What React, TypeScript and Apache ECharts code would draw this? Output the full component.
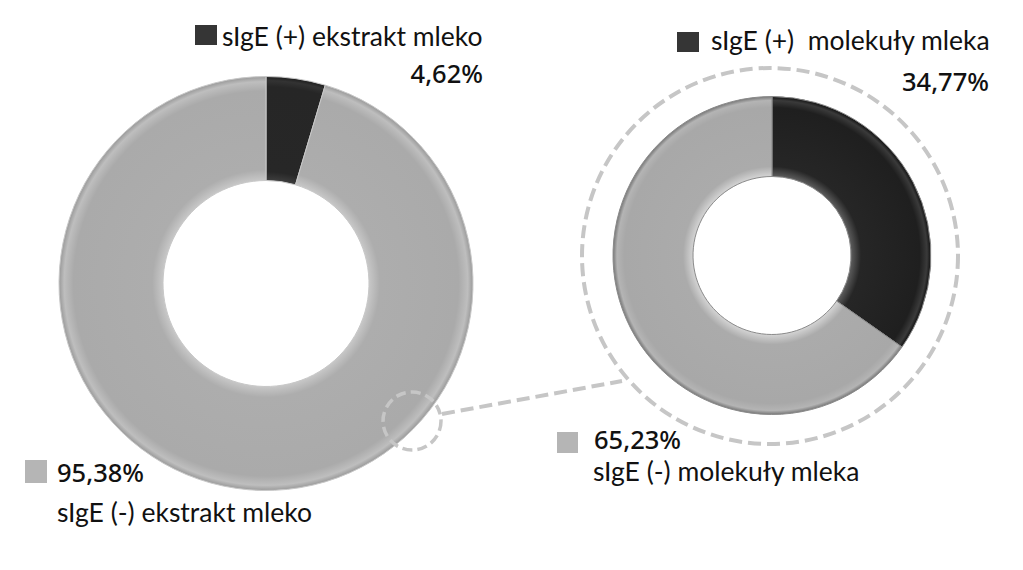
import React, { useEffect, useRef } from "react";
import * as echarts from "echarts";

// ---- data ----
const leftNames = ["sIgE (+) ekstrakt mleko", "sIgE (-) ekstrakt mleko"];
const leftValues = [4.62, 95.38];
const rightNames = ["sIgE (+)  molekuły mleka", "sIgE (-) molekuły mleka"];
const rightValues = [34.77, 65.23];

const fmt = (v: number) => v.toFixed(2).replace(".", ",") + "%";

const NAME_FONT = "26.5px Lato, 'Noto Sans', sans-serif";
const PCT_FONT = "500 25.5px 'Noto Sans', 'Open Sans', sans-serif";
const TEXT = "#111111";
const DARK = "#353535";
const LIGHT = "#b5b5b5";

function radial(cx: number, cy: number, r: number, stops: [number, string][]) {
  return {
    type: "radial",
    x: cx,
    y: cy,
    r,
    global: true,
    colorStops: stops.map(([offset, color]) => ({ offset, color })),
  };
}

export default function App() {
  const ref = useRef<HTMLDivElement>(null);
  useEffect(() => {
    if (!ref.current) return;
    const chart = echarts.init(ref.current, undefined, { renderer: "svg" });
    const L = { cx: 266, cy: 283.5, r0: 103, r: 207 };
    const R = { cx: 772, cy: 255.5, r0: 79, r: 159 };

    const leftColors = [
      radial(L.cx, L.cy, L.r, [
        [0.5, "#3c3c3c"],
        [0.54, "#272727"],
        [0.95, "#262626"],
        [0.98, "#333333"],
        [1, "#1c1c1c"],
      ]),
      radial(L.cx, L.cy, L.r, [
        [0.5, "#c6c6c6"],
        [0.55, "#adadad"],
        [0.93, "#aaaaaa"],
        [0.975, "#bebebe"],
        [1, "#9a9a9a"],
      ]),
    ];
    const rightColors = [
      radial(R.cx, R.cy, R.r, [
        [0.5, "#5a5a5a"],
        [0.56, "#262626"],
        [0.93, "#1f1f1f"],
        [0.975, "#3a3a3a"],
        [1, "#111111"],
      ]),
      radial(R.cx, R.cy, R.r, [
        [0.5, "#d2d2d2"],
        [0.56, "#ababab"],
        [0.93, "#a8a8a8"],
        [0.975, "#b4b4b4"],
        [1, "#777777"],
      ]),
    ];

    const mkData = (names: string[], values: number[], colors: any[]) =>
      names.map((n, i) => ({ name: n, value: values[i], itemStyle: { color: colors[i] } }));

    const dash = { stroke: "#c6c6c6", lineWidth: 4, lineDash: [13, 6], fill: "none" } as any;
    const nameStyle = { font: NAME_FONT, fill: TEXT, verticalAlign: "middle", lineHeight: 22 } as any;
    const pctStyle = { font: PCT_FONT, fill: TEXT, verticalAlign: "middle", lineHeight: 22 } as any;

    const graphics: any[] = [
      // zoom circles and connector
      { type: "circle", shape: { cx: R.cx - 2, cy: R.cy + 0.5, r: 188 }, style: { ...dash }, silent: true, z: 10 },
      { type: "circle", shape: { cx: 412, cy: 421, r: 29 }, style: { ...dash, lineWidth: 3.5, lineDash: [10, 5] }, silent: true, z: 10 },
      { type: "line", shape: { x1: 442, y1: 414, x2: 622, y2: 381 }, style: { ...dash }, silent: true, z: 10 },
      // left top legend
      { type: "rect", shape: { x: 195, y: 25, width: 22, height: 20 }, style: { fill: DARK } },
      { type: "text", style: { ...nameStyle, text: leftNames[0], x: 222, y: 36 } },
      { type: "text", style: { ...pctStyle, text: fmt(leftValues[0]), x: 483, y: 73, align: "right" } },
      // right top legend
      { type: "rect", shape: { x: 677, y: 32, width: 22, height: 20 }, style: { fill: DARK } },
      { type: "text", style: { ...nameStyle, text: rightNames[0], x: 711, y: 40 } },
      { type: "text", style: { ...pctStyle, text: fmt(rightValues[0]), x: 989, y: 81, align: "right" } },
      // bottom left legend
      { type: "rect", shape: { x: 25, y: 460, width: 22, height: 23 }, style: { fill: LIGHT } },
      { type: "text", style: { ...pctStyle, text: fmt(leftValues[1]), x: 57, y: 472 } },
      { type: "text", style: { ...nameStyle, text: leftNames[1], x: 57, y: 512 } },
      // bottom right legend
      { type: "rect", shape: { x: 557, y: 432, width: 21, height: 21 }, style: { fill: LIGHT } },
      { type: "text", style: { ...pctStyle, text: fmt(rightValues[1]), x: 594, y: 439 } },
      { type: "text", style: { ...nameStyle, text: rightNames[1], x: 593, y: 471 } },
    ];

    chart.setOption({
      animation: false,
      backgroundColor: "#ffffff",
      series: [
        {
          type: "pie",
          center: [L.cx, L.cy],
          radius: [L.r0, L.r],
          startAngle: 90,
          clockwise: true,
          silent: true,
          label: { show: false },
          labelLine: { show: false },
          itemStyle: { borderColor: "#c8c8c8", borderWidth: 1 },
          emphasis: { disabled: true },
          data: mkData(leftNames, leftValues, leftColors),
        },
        {
          type: "pie",
          center: [R.cx, R.cy],
          radius: [R.r0, R.r],
          startAngle: 90,
          clockwise: true,
          silent: true,
          label: { show: false },
          labelLine: { show: false },
          itemStyle: { borderColor: "#8a8a8a", borderWidth: 1 },
          emphasis: { disabled: true },
          data: mkData(rightNames, rightValues, rightColors),
        },
      ],
      graphic: graphics,
    });
    return () => chart.dispose();
  }, []);
  return (
    <div
      ref={ref}
      style={{ position: "fixed", left: 0, top: 0, width: 1023, height: 570, background: "#fff" }}
    />
  );
}
